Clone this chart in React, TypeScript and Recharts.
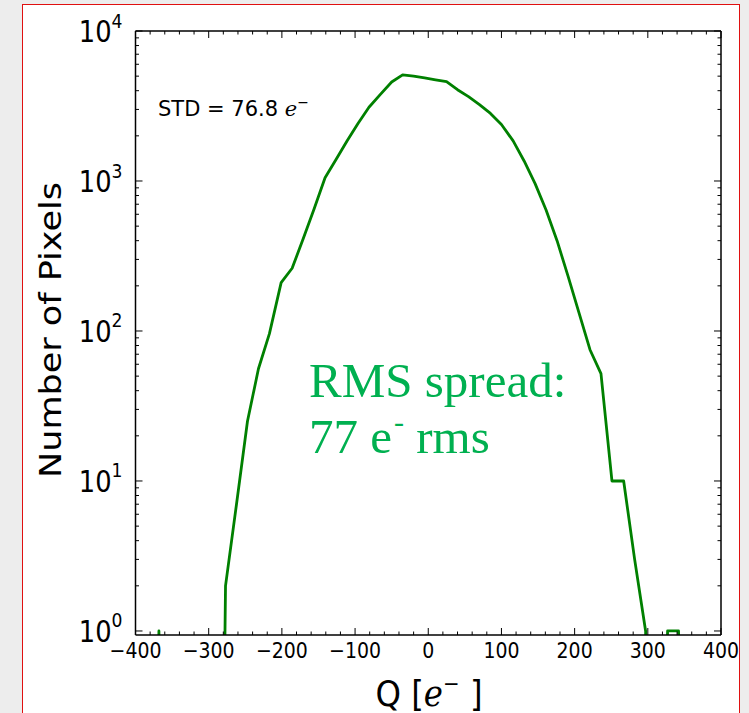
import { Line, LineChart, XAxis, YAxis } from "recharts"

// bin centres (Q in e-) and pixel counts
const qValues = [
  -398, -383, -368, -352, -337, -322, -307, -292, -277, -262, -247, -232, -217,
  -201, -186, -171, -156, -141, -126, -111, -96, -81, -66, -50, -35, -20, -5, 10,
  25, 40, 55, 70, 85, 100, 116, 131, 146, 161, 176, 191, 206, 221, 236, 251, 267,
  282, 297, 312, 327, 342, 357, 372, 387,
]
const counts = [
  0, 0, 1, 0, 0, 0, 0, 0, 2, 7, 25, 56, 96, 210, 262, 410, 650, 1050, 1390, 1850,
  2420, 3100, 3750, 4570, 5100, 5000, 4870, 4730, 4600, 4060, 3650, 3230, 2820,
  2380, 1850, 1360, 960, 640, 400, 232, 132, 75, 52, 10, 10, 3, 1, 0, 1, 1, 0, 0, 0,
]

const xTicks = [
  -400, -380, -360, -340, -320, -300, -280, -260, -240, -220, -200, -180, -160,
  -140, -120, -100, -80, -60, -40, -20, 0, 20, 40, 60, 80, 100, 120, 140, 160,
  180, 200, 220, 240, 260, 280, 300, 320, 340, 360, 380, 400,
]
const xLabels = [-400, -300, -200, -100, 0, 100, 200, 300, 400]
const yTicks = [
  1, 2, 3, 4, 5, 6, 7, 8, 9, 10, 20, 30, 40, 50, 60, 70, 80, 90, 100, 200, 300,
  400, 500, 600, 700, 800, 900, 1000, 2000, 3000, 4000, 5000, 6000, 7000, 8000,
  9000, 10000,
]
const yLabels = [1, 10, 100, 1000, 10000]

// empty bins have no place on a log axis; push them far below so they clip like matplotlib
const chartData = qValues.map((q, i) => ({ q, n: counts[i] > 0 ? counts[i] : 1e-6 }))

const FONT = "DejaVu Sans"
const MAJOR = 7
const MINOR = 3.5

function BottomTick({ x, y, payload }: any) {
  const v = payload.value
  const major = xLabels.includes(v)
  return (
    <g>
      <line x1={x} x2={x} y1={y} y2={y - (major ? MAJOR : MINOR)} stroke="#000" strokeWidth={1} />
      {major && (
        <text
          transform={`translate(${x},${y + 15}) scale(0.86,1)`}
          textAnchor="middle"
          dominantBaseline="central"
          fontSize={22}
          fontFamily={FONT}
          fill="#000"
        >
          {v < 0 ? `\u2212${-v}` : v}
        </text>
      )}
    </g>
  )
}

function TopTick({ x, y, payload }: any) {
  const major = xLabels.includes(payload.value)
  return <line x1={x} x2={x} y1={y} y2={y + (major ? MAJOR : MINOR)} stroke="#000" strokeWidth={1} />
}

function LeftTick({ x, y, payload }: any) {
  const v = payload.value
  const major = yLabels.includes(v)
  return (
    <g>
      <line x1={x} x2={x + (major ? MAJOR : MINOR)} y1={y} y2={y} stroke="#000" strokeWidth={1} />
      {major && (
        <text
          transform={`translate(${x - 13},${y + 1}) scale(0.86,1)`}
          textAnchor="end"
          dominantBaseline="central"
          fontSize={30}
          fontFamily={FONT}
          fill="#000"
        >
          10
          <tspan dy={-12} fontSize={20}>
            {Math.round(Math.log10(v))}
          </tspan>
        </text>
      )}
    </g>
  )
}

function RightTick({ x, y, payload }: any) {
  const major = yLabels.includes(payload.value)
  return <line x1={x} x2={x - (major ? MAJOR : MINOR)} y1={y} y2={y} stroke="#000" strokeWidth={1} />
}

const frame = { stroke: "#000", strokeWidth: 1.5 }

export default function App() {
  return (
    <div
      style={{
        position: "fixed",
        left: 0,
        top: 0,
        width: 749,
        height: 713,
        background: "#ededed",
        overflow: "hidden",
      }}
    >
      <div
        style={{
          position: "absolute",
          left: 22,
          top: 4,
          width: 716,
          height: 730,
          background: "#fff",
          border: "1px solid #e01010",
        }}
      />
      <div style={{ position: "absolute", left: 0, top: 0 }}>
        <LineChart width={749} height={713} data={chartData} margin={{ top: 30, right: 27, bottom: 0, left: 0 }}>
          <XAxis
            xAxisId="b"
            dataKey="q"
            type="number"
            domain={[-400, 400]}
            ticks={xTicks}
            interval={0}
            allowDataOverflow
            height={78}
            tickSize={0}
            tickMargin={0}
            tickLine={false}
            axisLine={frame}
            tick={(p: any) => <BottomTick {...p} />}
          />
          <XAxis
            xAxisId="t"
            orientation="top"
            dataKey="q"
            type="number"
            domain={[-400, 400]}
            ticks={xTicks}
            interval={0}
            allowDataOverflow
            height={1}
            tickSize={0}
            tickMargin={0}
            tickLine={false}
            axisLine={frame}
            tick={(p: any) => <TopTick {...p} />}
          />
          <YAxis
            yAxisId="l"
            type="number"
            scale="log"
            domain={[0.94, 10000]}
            ticks={yTicks}
            interval={0}
            allowDataOverflow
            width={135.5}
            tickSize={0}
            tickMargin={0}
            tickLine={false}
            axisLine={frame}
            tick={(p: any) => <LeftTick {...p} />}
          />
          <YAxis
            yAxisId="r"
            orientation="right"
            type="number"
            scale="log"
            domain={[0.94, 10000]}
            ticks={yTicks}
            interval={0}
            allowDataOverflow
            width={1}
            tickSize={0}
            tickMargin={0}
            tickLine={false}
            axisLine={frame}
            tick={(p: any) => <RightTick {...p} />}
          />
          <Line
            xAxisId="b"
            yAxisId="l"
            dataKey="n"
            type="linear"
            stroke="#008000"
            strokeWidth={2.8}
            strokeLinejoin="round"
            dot={false}
            activeDot={false}
            isAnimationActive={false}
          />
        </LineChart>
      </div>
      <svg
        width={749}
        height={713}
        style={{ position: "absolute", left: 0, top: 0, pointerEvents: "none" }}
      >
        <text
          transform="translate(61,330) rotate(-90)"
          textAnchor="middle"
          fontSize={31}
          fontFamily={FONT}
          textLength={296}
          lengthAdjust="spacingAndGlyphs"
          fill="#000"
        >
          Number of Pixels
        </text>
        <text transform="translate(429,706) scale(0.9,1)" textAnchor="middle" fontSize={36} fontFamily={FONT} fill="#000">
          Q [<tspan fontFamily="DejaVu Serif" fontStyle="italic">e</tspan>
          <tspan dy={-15} fontSize={22}>{"\u2212"}</tspan>
          <tspan dy={15}>{"  ]"}</tspan>
        </text>
        <text x={158} y={116} fontSize={21} fontFamily={FONT} fill="#000">
          STD = 76.8 <tspan fontFamily="DejaVu Serif" fontStyle="italic">e</tspan>
          <tspan dy={-9} fontSize={14}>{"\u2212"}</tspan>
        </text>
        <text x={309} y={397} fontSize={49} fontFamily="Liberation Serif" fill="#00b050">
          RMS spread:
        </text>
        <text x={309} y={453} fontSize={49} fontFamily="Liberation Serif" fill="#00b050">
          77 e<tspan dx={2} dy={-21} fontSize={30}>-</tspan>
          <tspan dy={21}> rms</tspan>
        </text>
      </svg>
    </div>
  )
}
